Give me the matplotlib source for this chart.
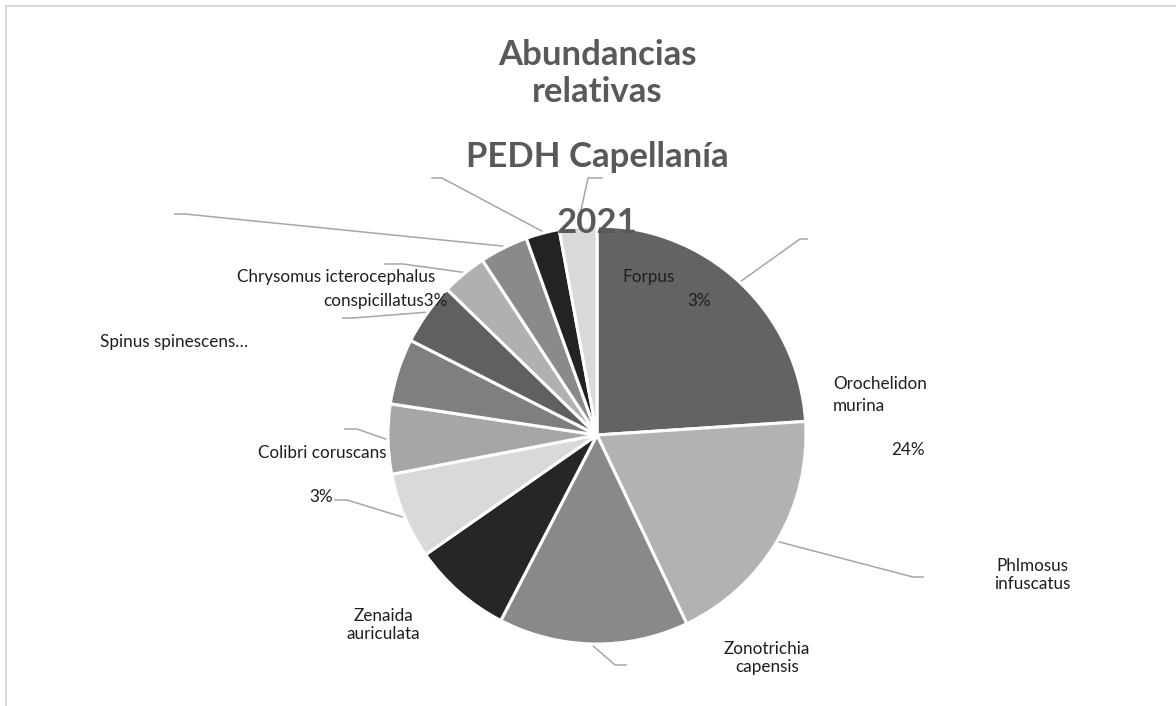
import numpy as np
import matplotlib
matplotlib.use("Agg")
import matplotlib.pyplot as plt

# slice shares (percent), clockwise from 12 o'clock
shares = [24.0, 19.0, 14.7, 7.7, 6.7, 5.4, 5.1, 4.8, 3.5, 3.75, 2.6, 2.9]
greys = ['#636363', '#b2b2b2', '#898989', '#262626', '#d9d9d9', '#a6a6a6',
         '#7f7f7f', '#606060', '#b0b0b0', '#8a8a8a', '#232323', '#d9d9d9']

title_lines = ["Abundancias", "relativas", "PEDH Capellanía", "2021"]

# labels as Excel left them: (text, x, baseline y, ha) in pixel coords
labels = [
    ("Forpus", 622, 282, 'left'),
    ("3%", 699, 306, 'center'),
    ("Orochelidon", 833, 389, 'left'),
    ("murina", 833, 411, 'left'),
    ("24%", 908, 455, 'center'),
    ("Phlmosus", 1032, 571, 'center'),
    ("infuscatus", 1032, 589, 'center'),
    ("Zonotrichia", 767, 654, 'center'),
    ("capensis", 767, 672, 'center'),
    ("Zenaida", 383, 621, 'center'),
    ("auriculata", 383, 639, 'center'),
    ("3%", 333, 502, 'right'),
    ("Colibri coruscans", 387, 458, 'right'),
    ("Spinus spinescens\u2026", 100, 347, 'left'),
    ("Chrysomus icterocephalus", 336, 282, 'center'),
    ("conspicillatus3%", 448, 306, 'right'),
]

# leader line elbows / ends for the slices that have one (slice index -> points)
leaders = {
    0: [(800, 239), (807, 239)],
    1: [(913, 577), (923, 577)],
    2: [(615, 665), (626, 665)],
    4: [(347, 500), (335, 500)],
    5: [(357, 429), (345, 429)],
    7: [(353, 318), (343, 318)],
    8: [(403, 264), (385, 264)],
    9: [(185, 214), (175, 214)],
    10: [(442, 178), (432, 178)],
    11: [(588, 178), (602, 178)],
}

W, H = 1176, 706
cx, cy, r = 597, 435, 209

fig = plt.figure(figsize=(W / 100, H / 100), dpi=100)
ax = fig.add_axes([0, 0, 1, 1])

wedges, _ = ax.pie(shares, colors=greys, startangle=90, counterclock=False,
                   center=(cx, H - cy), radius=r,
                   wedgeprops=dict(edgecolor='white', linewidth=2.2))
ax.set_xlim(0, W)
ax.set_ylim(0, H)
ax.set_aspect('equal')
ax.axis('off')

# chart frame (light grey, top and left visible)
ax.plot([6, W], [H - 6, H - 6], color='#d9d9d9', lw=1.5)
ax.plot([6, 6], [H - 6, 0], color='#d9d9d9', lw=1.5)

# leader lines from the rim at each slice's mid angle
for i, pts in leaders.items():
    w = wedges[i]
    mid = np.deg2rad((w.theta1 + w.theta2) / 2)
    x0 = cx + r * 1.01 * np.cos(mid)
    y0 = (H - cy) + r * 1.01 * np.sin(mid)
    xs = [x0] + [p[0] for p in pts]
    ys = [y0] + [H - p[1] for p in pts]
    ax.plot(xs, ys, color='#a6a6a6', lw=1.1, zorder=0)

for txt, x, y, ha in labels:
    ax.text(x, H - y, txt, ha=ha, va='baseline', fontsize=12.3,
            family='Lato', color='#1e1e1e')

# title, each line placed as in the picture
title_base = [65, 102, 167, 233]
for txt, y in zip(title_lines, title_base):
    ax.text(597, H - y, txt, ha='center', va='baseline', fontsize=25,
            fontweight='bold', family='Lato', color='#595959', zorder=5)

fig.savefig('out.png', dpi=100)
